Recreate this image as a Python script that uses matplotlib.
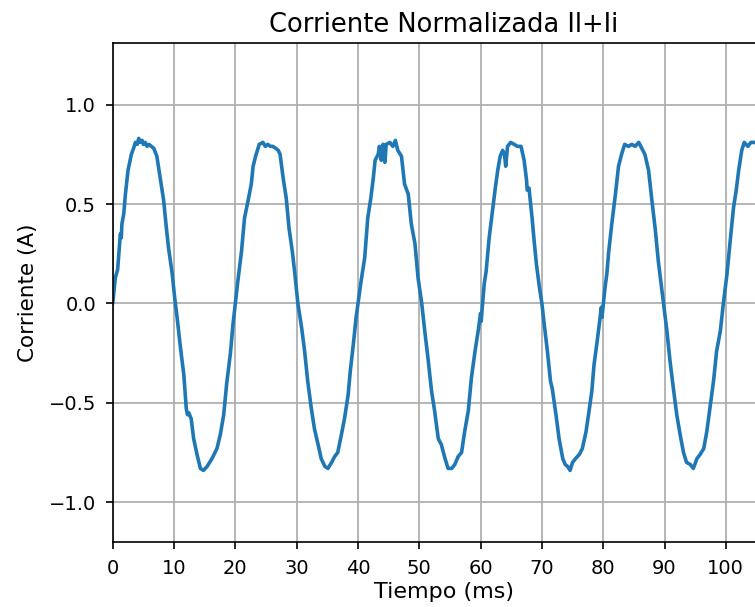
import matplotlib
matplotlib.use("Agg")
import matplotlib.pyplot as plt

# Sampled current waveform (time in ms, normalised current in A)
t_ms = [
    0.0, 0.43, 0.8, 1.0, 1.25, 1.4, 1.5, 1.8, 2.07, 2.5, 3.04, 3.4, 3.7, 4.0, 4.24, 4.5, 4.8, 5.0, 5.3, 5.6, 5.9, 6.3, 6.7, 7.2,
    7.8, 8.3, 8.75, 9.1, 9.7, 10.1, 10.5, 11.0, 11.6, 12.0, 12.2, 12.4, 12.8, 13.2, 13.75, 14.3, 14.8,
    15.4, 16.2, 17.0, 17.55, 18.1, 18.6, 19.2, 19.6, 20.0,
    20.4, 21.0, 21.5, 22.1, 22.6, 22.9, 23.3, 23.9, 24.5, 24.9, 25.3, 25.7, 26.1, 26.6, 27.0, 27.3, 27.8,
    28.3, 28.75, 29.3, 29.7, 30.2, 30.8, 31.3, 31.8, 32.4, 32.9, 33.5, 34.0, 34.6, 35.1, 35.7,
    36.2, 36.7, 37.3, 37.8, 38.4, 38.75, 39.3, 39.7, 40.1,
    40.5, 41.1, 41.6, 42.1, 42.5, 42.8, 43.3, 43.5, 43.8, 44.1, 44.4, 44.6, 45.2, 45.7, 46.1, 46.5,
    47.1, 47.6, 48.2, 48.7, 49.3, 49.8, 50.4, 50.9, 51.4, 52.0, 52.5, 53.1, 53.6, 54.2, 54.7, 55.3,
    55.8, 56.35, 56.9, 57.4, 58.0, 58.5, 59.1, 59.6, 60.0, 60.1, 60.25,
    60.6, 60.9, 61.4, 62.0, 62.4, 62.8, 63.2, 63.6, 63.9, 64.1, 64.4, 64.9, 65.5, 66.0, 66.6, 67.1,
    67.5, 67.6, 67.9, 68.4, 68.75, 69.1, 69.6, 70.0, 70.4, 70.9, 71.4, 71.7, 72.3, 72.8, 73.4, 73.8,
    74.2, 74.6, 75.0, 75.5, 76.1, 76.6, 77.2, 77.7, 78.15, 78.5, 79.1, 79.5, 79.7, 79.8, 80.0,
    80.3, 80.6, 80.9, 81.4, 82.0, 82.5, 83.0, 83.5, 84.1, 84.7, 85.2, 85.8, 86.3, 86.8, 87.4, 87.9,
    88.5, 89.0, 89.6, 90.0, 90.4, 90.9, 91.5, 92.0, 92.55, 93.1, 93.6, 94.2, 94.7, 95.3, 95.8, 96.4,
    96.9, 97.4, 98.0, 98.5, 99.1, 99.6, 100.2, 100.7, 101.25, 101.7, 102.1, 102.6, 103.0, 103.6,
    104.1, 104.7, 105.3, 106.0,
]
current_a = [
    0.0, 0.13, 0.17, 0.25, 0.35, 0.33, 0.40, 0.45, 0.55, 0.67, 0.75, 0.78, 0.81, 0.80, 0.83, 0.81, 0.82, 0.80, 0.81, 0.79, 0.80, 0.79, 0.78, 0.74,
    0.62, 0.52, 0.38, 0.28, 0.15, 0.03, -0.07, -0.21, -0.36, -0.53, -0.56, -0.55, -0.58, -0.68, -0.76, -0.83, -0.84,
    -0.82, -0.78, -0.73, -0.66, -0.56, -0.40, -0.25, -0.11, 0.0,
    0.11, 0.26, 0.43, 0.52, 0.60, 0.69, 0.74, 0.80, 0.81, 0.79, 0.80, 0.79, 0.79, 0.78, 0.77, 0.75, 0.63,
    0.53, 0.38, 0.26, 0.15, 0.0, -0.12, -0.24, -0.39, -0.53, -0.63, -0.71, -0.78, -0.82, -0.83, -0.80,
    -0.77, -0.75, -0.66, -0.58, -0.46, -0.34, -0.19, -0.07, 0.02,
    0.11, 0.23, 0.43, 0.53, 0.63, 0.72, 0.75, 0.79, 0.72, 0.80, 0.71, 0.80, 0.81, 0.79, 0.82, 0.77,
    0.74, 0.60, 0.55, 0.40, 0.30, 0.13, 0.0, -0.14, -0.27, -0.44, -0.54, -0.68, -0.71, -0.78, -0.83, -0.83,
    -0.81, -0.77, -0.75, -0.645, -0.54, -0.375, -0.24, -0.14, -0.05, -0.09, -0.03,
    0.10, 0.16, 0.33, 0.48, 0.58, 0.67, 0.74, 0.77, 0.75, 0.69, 0.79, 0.81, 0.80, 0.79, 0.79, 0.72,
    0.62, 0.57, 0.58, 0.43, 0.31, 0.20, 0.08, 0.0, -0.11, -0.24, -0.39, -0.43, -0.56, -0.68, -0.78, -0.81,
    -0.82, -0.84, -0.80, -0.78, -0.76, -0.73, -0.645, -0.54, -0.44, -0.31, -0.17, -0.07, -0.02, -0.07, -0.01,
    0.08, 0.15, 0.26, 0.40, 0.55, 0.69, 0.75, 0.80, 0.79, 0.80, 0.79, 0.81, 0.78, 0.75, 0.67, 0.53,
    0.37, 0.21, 0.06, -0.04, -0.14, -0.29, -0.44, -0.56, -0.66, -0.75, -0.80, -0.81, -0.83, -0.78, -0.76, -0.73,
    -0.645, -0.53, -0.39, -0.24, -0.14, 0.0, 0.15, 0.31, 0.48, 0.57, 0.67, 0.77, 0.81, 0.79,
    0.81, 0.81, 0.80, 0.79,
]

x_ticks = [0, 10, 20, 30, 40, 50, 60, 70, 80, 90, 100]
y_ticks = [-1.0, -0.5, 0.0, 0.5, 1.0]

fig = plt.figure(figsize=(7.55, 6.07), dpi=100)
ax = fig.add_axes([0.1493, 0.1071, 0.877, 0.8221])

ax.plot(t_ms, current_a, color="#1f77b4", linewidth=2.6,
        solid_joinstyle="round", solid_capstyle="round")

ax.set_xlim(0, 108)
ax.set_ylim(-1.2, 1.31)
ax.set_xticks(x_ticks)
ax.set_yticks(y_ticks)
ax.grid(True, color="#b0b0b0", linewidth=1.3)
ax.tick_params(labelsize=14, length=5, width=1.2, pad=7)
for s in ax.spines.values():
    s.set_linewidth(1.2)

ax.set_title("Corriente Normalizada Il+Ii", fontsize=18.5, pad=8)
ax.set_xlabel("Tiempo (ms)", fontsize=16, labelpad=3)
ax.set_ylabel("Corriente (A)", fontsize=15.5, labelpad=8)

fig.savefig("out.png", dpi=100)
